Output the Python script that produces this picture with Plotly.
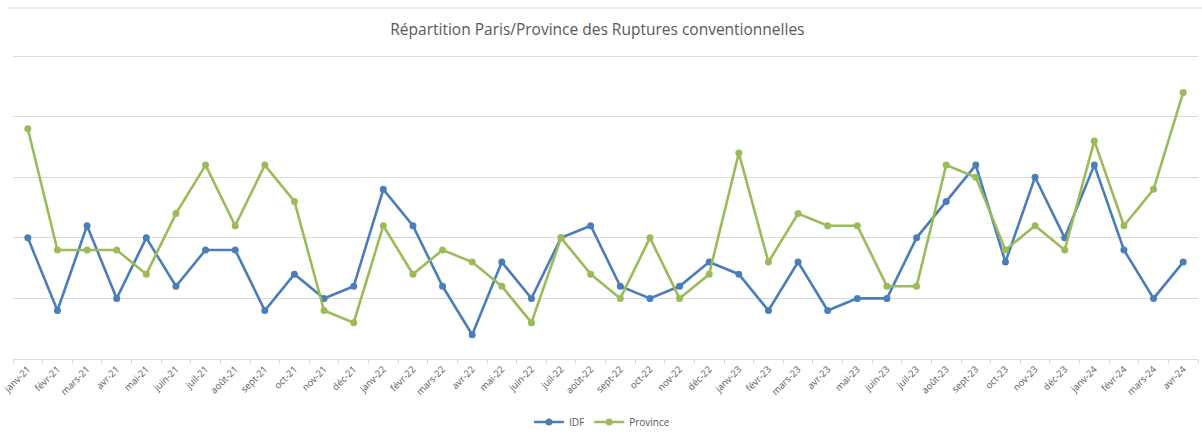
import plotly.graph_objects as go

months = ["janv-21", "févr-21", "mars-21", "avr-21", "mai-21", "juin-21", "juil-21", "août-21", "sept-21", "oct-21",
          "nov-21", "déc-21", "janv-22", "févr-22", "mars-22", "avr-22", "mai-22", "juin-22", "juil-22", "août-22",
          "sept-22", "oct-22", "nov-22", "déc-22", "janv-23", "févr-23", "mars-23", "avr-23", "mai-23", "juin-23",
          "juil-23", "août-23", "sept-23", "oct-23", "nov-23", "déc-23", "janv-24", "févr-24", "mars-24", "avr-24"]

idf = [10, 4, 11, 5, 10, 6, 9, 9, 4, 7,
       5, 6, 14, 11, 6, 2, 8, 5, 10, 11,
       6, 5, 6, 8, 7, 4, 8, 4, 5, 5,
       10, 13, 16, 8, 15, 10, 16, 9, 5, 8]

province = [19, 9, 9, 9, 7, 12, 16, 11, 16, 13,
            4, 3, 11, 7, 9, 8, 6, 3, 10, 7,
            5, 10, 5, 7, 17, 8, 12, 11, 11, 6,
            6, 16, 15, 9, 11, 9, 18, 11, 14, 22]

BLUE = "#4a7ebb"
GREEN = "#9bbb59"
GREY = "#595959"

fig = go.Figure()
fig.add_trace(go.Scatter(x=months, y=idf, name="IDF", mode="lines+markers",
                         line=dict(color=BLUE, width=2.6),
                         marker=dict(color=BLUE, size=7)))
fig.add_trace(go.Scatter(x=months, y=province, name="Province", mode="lines+markers",
                         line=dict(color=GREEN, width=2.6),
                         marker=dict(color=GREEN, size=7)))

fig.update_layout(
    width=1202, height=434,
    margin=dict(l=13, r=4, t=50, b=75, autoexpand=False),
    paper_bgcolor="white", plot_bgcolor="white",
    font=dict(family="Open Sans, Liberation Sans, sans-serif", color=GREY),
    title=dict(text="Répartition Paris/Province des Ruptures conventionnelles",
               x=0.497, xanchor="center", y=1 - 30 / 434, yanchor="middle",
               font=dict(size=15.5, color=GREY)),
    showlegend=True,
    legend=dict(orientation="h", x=0.497, xanchor="center", y=-0.204, yanchor="middle",
                font=dict(size=10, color=GREY), itemwidth=30, bgcolor="rgba(0,0,0,0)"),
    xaxis=dict(type="category", showgrid=False, showline=True, linecolor="#d9d9d9", linewidth=1,
               ticks="outside", tickson="boundaries", ticklen=4, tickcolor="#d9d9d9",
               tickangle=-45, tickfont=dict(size=9.5, color=GREY), range=[-0.5, 39.5],
               automargin=False),
    yaxis=dict(range=[0, 25.5], tick0=0, dtick=5, showgrid=True, gridcolor="#d9d9d9", gridwidth=1,
               showticklabels=False, zeroline=False, showline=False, fixedrange=True,
               automargin=False),
    shapes=[dict(type="line", xref="paper", yref="paper",
                 x0=(8 - 13) / 1185, x1=1.01, y0=(359 - 8) / 309, y1=(359 - 8) / 309,
                 line=dict(color="#d9d9d9", width=1))],
)

fig.write_html("out.html", config={"displayModeBar": False},
               post_script="document.body.style.margin='0';document.body.style.overflow='hidden';")
